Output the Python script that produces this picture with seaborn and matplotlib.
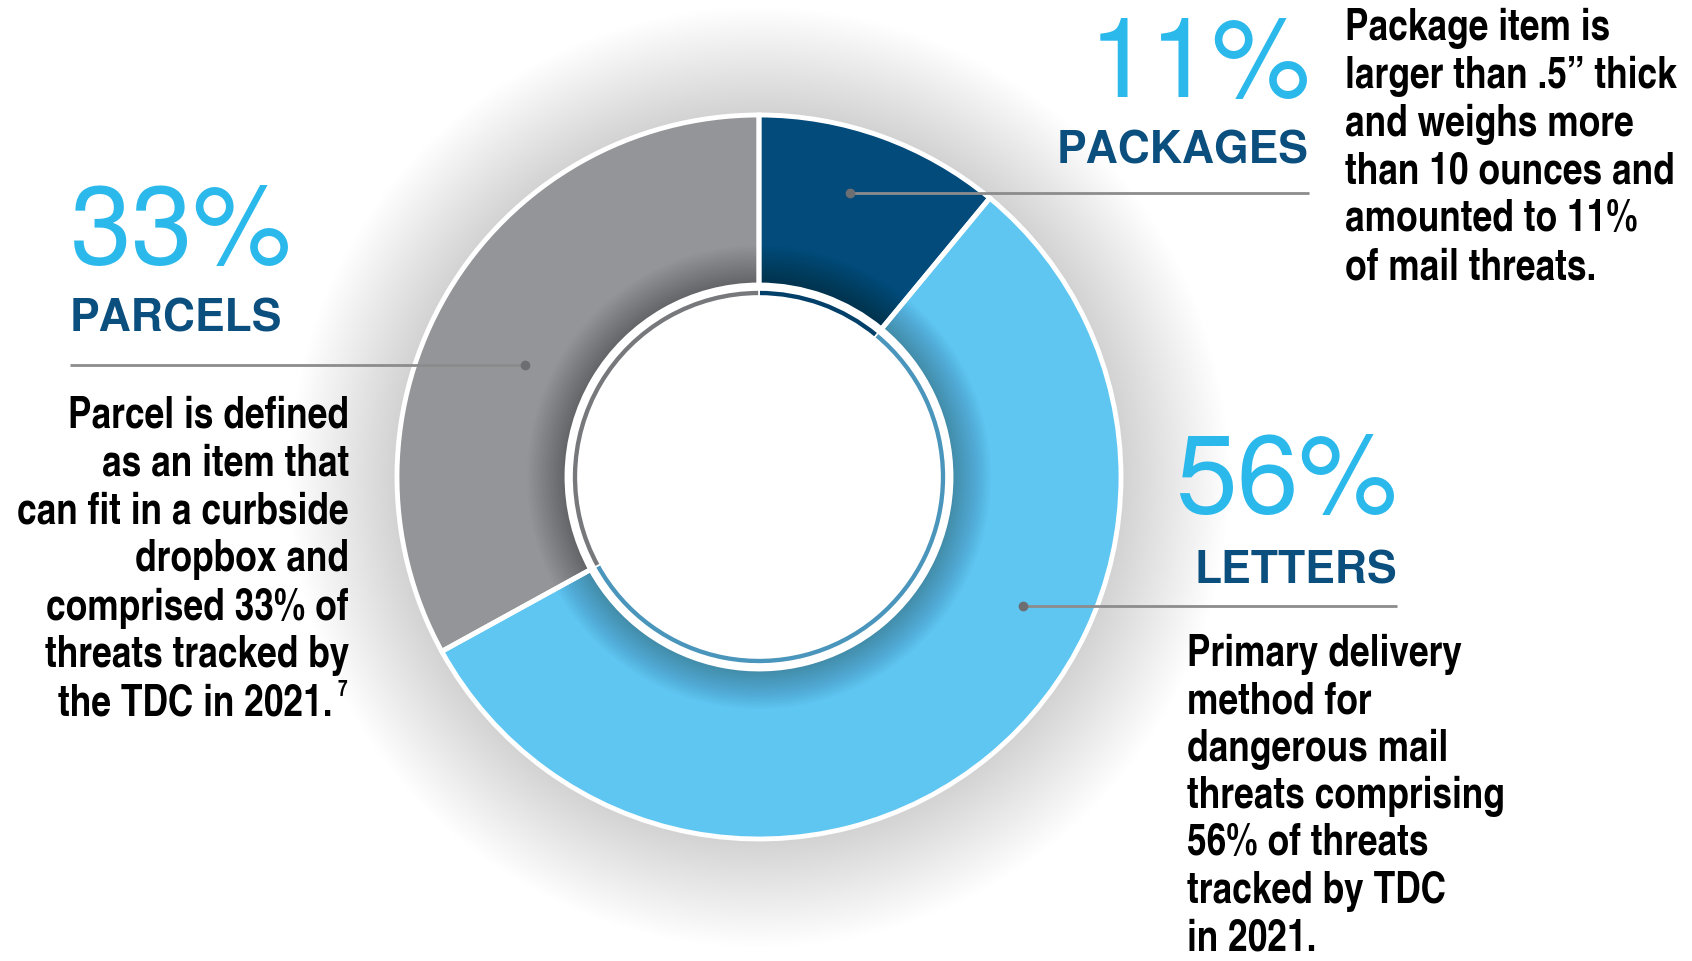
import numpy as np
import matplotlib.pyplot as plt
import seaborn as sns
from matplotlib.patches import Wedge

# Mail threat breakdown (TDC, 2021)
categories = ['PACKAGES', 'LETTERS', 'PARCELS']
shares = [11, 56, 33]
descriptions = [
    ['Package item is', 'larger than .5\u201d thick', 'and weighs more',
     'than 10 ounces and', 'amounted to 11%', 'of mail threats.'],
    ['Primary delivery', 'method for', 'dangerous mail',
     'threats comprising', '56% of threats', 'tracked by TDC', 'in 2021.'],
    ['Parcel is defined', 'as an item that', 'can fit in a curbside',
     'dropbox and', 'comprised 33% of', 'threats tracked by', 'the TDC in 2021.'],
]
footnote = '7'

wedge_colors = ['#034b7b', '#5fc6f1', '#939598']
ring_colors = ['#023f69', '#4a95bb', '#77787b']
pct_color = '#2bb8eb'
cat_color = '#0b4f7f'

sns.set_theme(style='white')
plt.rcParams['font.family'] = ['TeX Gyre Heros', 'Liberation Sans', 'DejaVu Sans']
body_font = ['TeX Gyre Heros Cn', 'Liberation Sans', 'DejaVu Sans']

W, H = 1692, 961
fig = plt.figure(figsize=(W / 100, H / 100), dpi=100)
ax = fig.add_axes([0, 0, 1, 1])

cx, cy = 759, H - 477
r_out, r_in = 362, 192


def py(y):
    # convert top-down pixel row to axis y
    return H - y


# soft glow around the donut (annuli only, hole stays white)
for k in range(1, 46):
    ax.add_patch(Wedge((cx, cy), r_out + k * 2.4, 0, 360, width=k * 2.4 + 1,
                       color='black', alpha=0.0045, lw=0, zorder=0))

ax.pie(shares, colors=wedge_colors, startangle=90, counterclock=False,
       center=(cx, cy), radius=r_out,
       wedgeprops=dict(width=r_out - r_in, linewidth=0), frame=True)

# inner shadow near the hole
for k in range(1, 26):
    ax.add_patch(Wedge((cx, cy), r_in + k * 1.6, 0, 360, width=k * 1.6,
                       color='black', alpha=0.011, lw=0, zorder=3))

# white separators and outline on top
ax.pie(shares, colors=['none'] * len(shares), startangle=90, counterclock=False,
       center=(cx, cy), radius=r_out,
       wedgeprops=dict(width=r_out - r_in, edgecolor='white', linewidth=3.5,
                       zorder=4), frame=True)

# thin inner ring
ax.pie(shares, colors=ring_colors, startangle=90, counterclock=False,
       center=(cx, cy), radius=187,
       wedgeprops=dict(width=6, edgecolor='white', linewidth=1.2, zorder=5),
       frame=True)

# leader lines with dots
leader_color = '#8c8c8c'
dot_color = '#6d6e71'
leaders = [((850, 193), 1309), ((1023, 606), 1397), ((525, 365), 70)]
for (dx, dy), xend in leaders:
    ax.plot([dx, xend], [py(dy), py(dy)], color=leader_color, lw=2, zorder=6,
            solid_capstyle='butt')
    ax.plot(dx, py(dy), 'o', color=dot_color, ms=6, zorder=7)

# percentages and categories
pct_pos = [(1311, 97, 'right'), (1397, 513, 'right'), (70, 264, 'left')]
cat_pos = [(1309, 164, 'right'), (1397, 583, 'right'), (70, 331, 'left')]
for i, cat in enumerate(categories):
    x, y, ha = pct_pos[i]
    ax.text(x, py(y), f'{shares[i]}%', color=pct_color, fontsize=80,
            ha=ha, va='baseline', zorder=8)
    x, y, ha = cat_pos[i]
    ax.text(x, py(y), cat, color=cat_color, fontsize=32, fontweight='bold',
            ha=ha, va='baseline', zorder=8)

# descriptions
desc_pos = [(1345, 28, 'left'), (1187, 654, 'left'), (349, 416, 'right')]
line_steps = [48, 47.5, 48]
for i, lines in enumerate(descriptions):
    x0, y0, ha = desc_pos[i]
    for j, line in enumerate(lines):
        xx = x0
        if i == 2 and j == len(lines) - 1:
            xx = x0 - 17
        ax.text(xx, py(y0 + j * line_steps[i]), line, family=body_font,
                fontweight='bold', fontsize=31, color='black',
                ha=ha, va='center', zorder=8)

# footnote marker
ax.text(337, py(691), footnote, family=body_font, fontweight='bold',
        fontsize=15, color='black', ha='left', va='center', zorder=8)

ax.set_xlim(0, W)
ax.set_ylim(0, H)
ax.set_aspect('equal')
ax.axis('off')

plt.savefig('out.png', dpi=100)
plt.close()
